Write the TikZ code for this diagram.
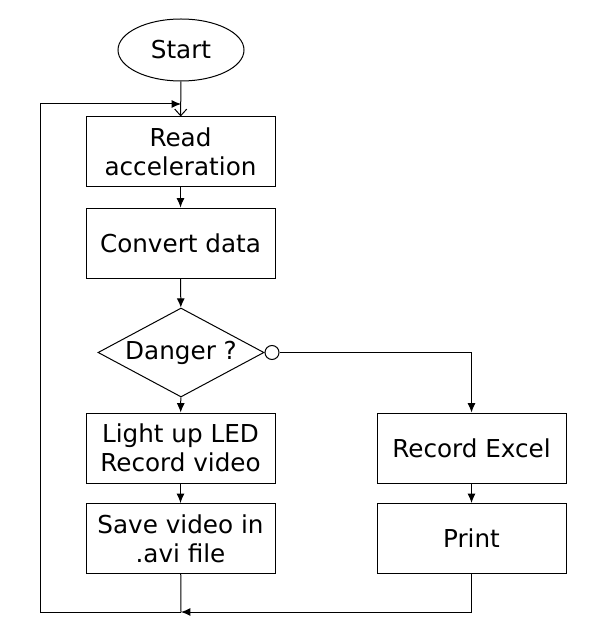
\documentclass[tikz,border=0pt]{standalone}
\usepackage{fontspec}
\setmainfont{DejaVu Sans}
\usepackage{tikz}
\usetikzlibrary{shapes.geometric,arrows.meta,positioning}

\begin{document}
\begin{tikzpicture}[x=0.75pt,y=-0.75pt,line width=0.75pt,
                font=\fontsize{18.5}{22}\selectfont,
                box/.style={rectangle, draw, minimum width=141.75pt, minimum height=52.5pt, align=center, inner sep=0pt},
                term/.style={ellipse, draw, minimum width=94.5pt, minimum height=46.5pt, inner sep=0pt},
                decision/.style={diamond, draw, aspect=1.87, minimum width=124.5pt, minimum height=66.75pt, inner sep=0pt},
                arr/.style={-{Latex[length=7pt,width=6pt]}}]
                \useasboundingbox (0,0) rectangle (603,627);
                \node [term] (start) at (181,50) {Start};
                \node [box] (read) at (180.5,152) {Read\\acceleration};
                \node [box] (convert) at (180.5,243) {Convert data};
                \node [decision] (danger) at (181,352.5) {Danger ?};
                \node [circle, draw, minimum size=10.5pt, inner sep=0pt, anchor=west] (no) at (danger.east) {};
                \node [box] (led) at (180.5,448) {Light up LED\\Record video};
                \node [box] (save) at (180.5,538.5) {Save video in\\.avi file};
                \node [box] (excel) at (471.5,448) {Record Excel};
                \node [box] (print) at (471.5,538.5) {Print};
                \coordinate (entry) at (181,104);
                \coordinate (join) at (181,612);
                % main flow
                \draw [-{Straight Barb[length=5pt,width=9pt]}] (start) -- (read);
                \draw [arr] (read) -- (convert);
                \draw [arr] (convert) -- (danger);
                \draw [arr] (danger) -- (led);
                \draw [arr] (led) -- (save);
                \draw [arr] (no) -| (excel);
                \draw [arr] (excel) -- (print);
                % back to the start
                \draw (save) -- (join);
                \draw [arr] (print) |- (join);
                \draw [arr] (join) -- (40,612) -- (40,104) -- (entry);
\end{tikzpicture}
\end{document}
